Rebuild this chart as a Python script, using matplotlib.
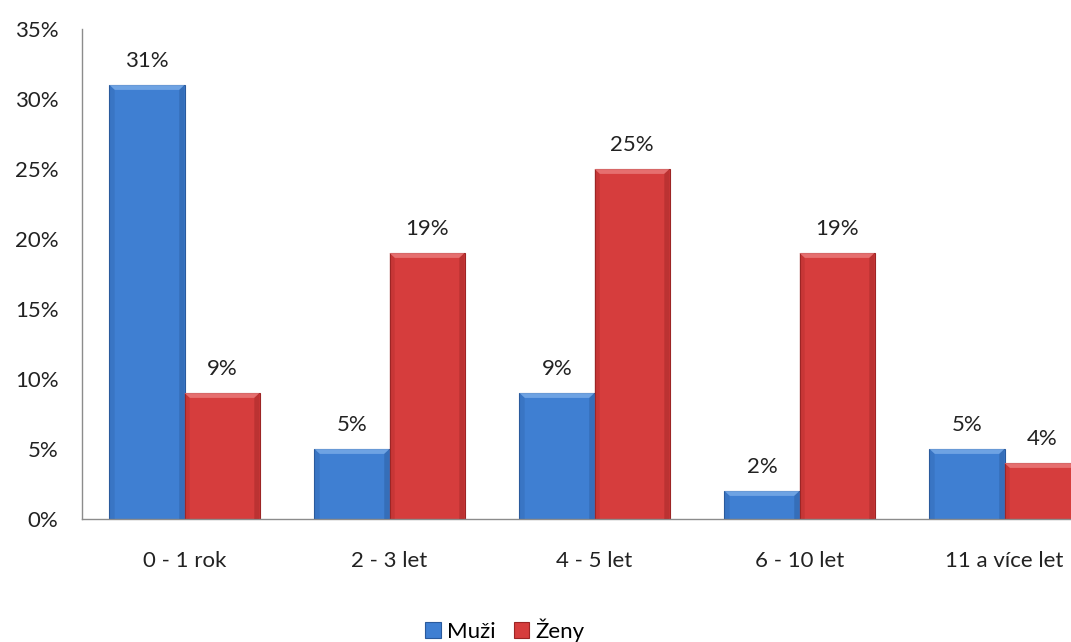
import numpy as np
import matplotlib.pyplot as plt
from matplotlib.patches import Polygon
from matplotlib.ticker import FuncFormatter

categories = ["0 - 1 rok", "2 - 3 let", "4 - 5 let", "6 - 10 let", "11 a více let"]
muzi = [31, 5, 9, 2, 5]
zeny = [9, 19, 25, 19, 4]
series = ["Muži", "Ženy"]

plt.rcParams['font.family'] = ['Lato', 'DejaVu Sans']

W, H = 1071, 642
fig = plt.figure(figsize=(W / 100, H / 100), dpi=100)
# plot area runs past the right edge of the figure
ax = fig.add_axes([82 / W, (H - 519) / H, (1107 - 82) / W, (519 - 29) / H])

x = np.arange(len(categories))
bw = 0.366
colors = [("#3f7fd2", "#2a5a9c", "#7fb0ea"), ("#d63d3d", "#9c2525", "#ec8080")]
fs = 16


def bevel(ax, bar, face, dark, light):
    # fake the raised-bar look: light strip on top, darker sides
    x0, y0 = bar.get_x(), bar.get_y()
    w, h = bar.get_width(), bar.get_height()
    dx = w * 0.07
    dy = min(0.35, h * 0.3)
    top = Polygon([(x0, y0 + h), (x0 + w, y0 + h), (x0 + w - dx, y0 + h - dy), (x0 + dx, y0 + h - dy)],
                  closed=True, facecolor=light, edgecolor="none", alpha=0.75, zorder=3)
    left = Polygon([(x0, y0), (x0, y0 + h), (x0 + dx, y0 + h - dy), (x0 + dx, y0)],
                   closed=True, facecolor=dark, edgecolor="none", alpha=0.25, zorder=3)
    right = Polygon([(x0 + w, y0), (x0 + w, y0 + h), (x0 + w - dx, y0 + h - dy), (x0 + w - dx, y0)],
                    closed=True, facecolor=dark, edgecolor="none", alpha=0.45, zorder=3)
    for p in (top, left, right):
        ax.add_patch(p)


handles = []
for k, (vals, off) in enumerate([(muzi, -bw / 2), (zeny, bw / 2)]):
    face, dark, light = colors[k]
    bars = ax.bar(x + off, vals, width=bw, color=face, edgecolor=dark, linewidth=0.8,
                  label=series[k], zorder=2)
    handles.append(bars)
    for b, v in zip(bars, vals):
        bevel(ax, b, face, dark, light)
        ax.annotate(f"{v}%", (b.get_x() + b.get_width() / 2, v), xytext=(0, 10),
                    textcoords="offset points", ha="center", va="bottom",
                    fontsize=fs, color="#222222")

ax.set_xlim(-0.5, len(categories) - 0.5)
ax.set_ylim(0, 35)
ax.set_yticks(np.arange(0, 36, 5))
ax.yaxis.set_major_formatter(FuncFormatter(lambda v, p: f"{v:.0f}%"))
ax.set_xticks(x)
ax.set_xticklabels(categories)
ax.tick_params(axis="both", length=0, labelsize=fs, colors="#222222")
ax.tick_params(axis="x", pad=23)
ax.tick_params(axis="y", pad=17)

for s in ("top", "right"):
    ax.spines[s].set_visible(False)
for s in ("left", "bottom"):
    ax.spines[s].set_color("#8c8c8c")
    ax.spines[s].set_linewidth(1)

fig.legend(handles=handles, labels=series, loc="center", bbox_to_anchor=(505 / W, 1 - 630 / H),
           ncol=2, frameon=False, fontsize=fs, handlelength=0.7, handleheight=0.7,
           handletextpad=0.3, columnspacing=0.8)

fig.savefig("out.png", dpi=100)
